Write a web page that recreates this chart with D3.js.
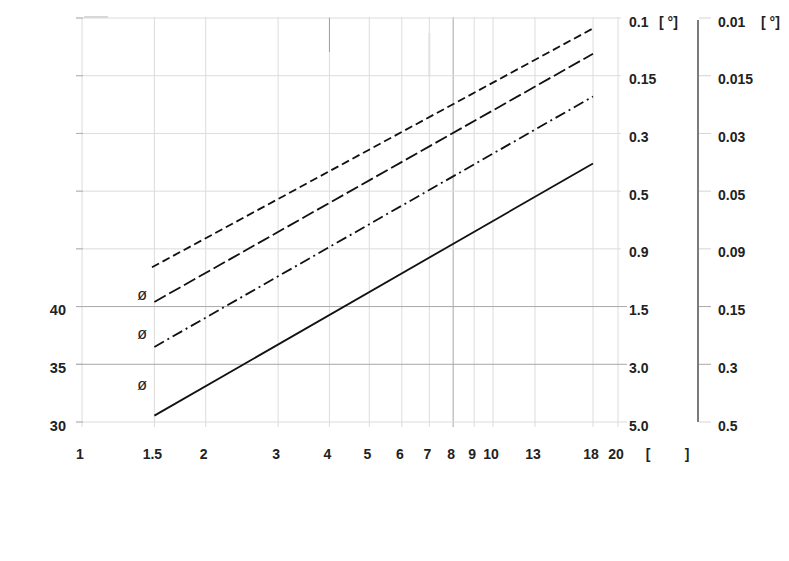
<!DOCTYPE html>
<html>
<head>
<meta charset="utf-8">
<script src="https://cdn.jsdelivr.net/npm/d3@7"></script>
<style>
  html, body { margin: 0; padding: 0; background: #fff; }
  svg { display: block; }
  text { font-family: "Liberation Sans", Arial, sans-serif; }
</style>
</head>
<body>
<svg id="chart" width="789" height="561"></svg>
<script>
// ---- data ----
const xTicks = [1, 1.5, 2, 3, 4, 5, 6, 7, 8, 9, 10, 13, 18, 20];
const yGrid = [30, 35, 40, 45, 50, 55, 60, 65];
const yLeftLabels = [30, 35, 40];
const rightLabels1 = ["5.0", "3.0", "1.5", "0.9", "0.5", "0.3", "0.15", "0.1"];
const rightLabels2 = ["0.5", "0.3", "0.15", "0.09", "0.05", "0.03", "0.015", "0.01"];
const lineNames = ["solid", "dashdot", "longdash", "shortdash"];
const lineX = [[1.5, 18], [1.5, 18], [1.5, 18], [1.48, 18]];
const lineY = [[30.55, 52.4], [36.5, 58.2], [40.4, 61.9], [43.4, 64.1]];
const diamX = [1.4, 1.4, 1.4];
const diamY = [33.1, 37.5, 40.9];

// ---- scales ----
const x = d3.scaleLog().domain([1, 10, 13, 18, 20]).range([82, 493, 535, 593, 618]);
const y = d3.scaleLinear().domain([30, 65]).range([422, 18]);

const svg = d3.select("#chart");
const dash = { solid: null, dashdot: "11,4,2,4", longdash: "13,4", shortdash: "8,4" };
const FS = "14px";

// vertical grid lines
svg.append("g").selectAll("line").data(xTicks).join("line")
  .attr("x1", d => x(d)).attr("x2", d => x(d))
  .attr("y1", y(65) - 1).attr("y2", y(30) + 5)
  .attr("stroke", d => d === 8 ? "#a8a8a8" : "#dcdcdc")
  .attr("stroke-width", 1);

// horizontal grid lines
svg.append("g").selectAll("line").data(yGrid).join("line")
  .attr("x1", 76).attr("x2", d => (d <= 40 ? 627 : 621))
  .attr("y1", d => y(d)).attr("y2", d => y(d))
  .attr("stroke", d => (d === 35 || d === 40) ? "#a8a8a8" : "#dcdcdc")
  .attr("stroke-width", 1);

// left small ticks
svg.append("g").selectAll("line").data(yGrid).join("line")
  .attr("x1", 76).attr("x2", 83)
  .attr("y1", d => y(d)).attr("y2", d => y(d))
  .attr("stroke", "#b0b0b0");

// scan artifacts (faint marks)
svg.append("line").attr("x1", 84).attr("x2", 108).attr("y1", y(65) - 1).attr("y2", y(65) - 1)
  .attr("stroke", "#d8d8d8").attr("stroke-width", 2);
svg.append("line").attr("x1", x(4)).attr("x2", x(4)).attr("y1", y(65)).attr("y2", 52)
  .attr("stroke", "#a0a0a0").attr("stroke-width", 1);
svg.append("line").attr("x1", x(7)).attr("x2", x(7)).attr("y1", 33).attr("y2", 77)
  .attr("stroke", "#e2e2e2").attr("stroke-width", 2);

// x axis labels
svg.append("g").selectAll("text").data(xTicks).join("text")
  .attr("x", d => x(d) - 2).attr("y", 459)
  .attr("text-anchor", "middle")
  .attr("font-size", FS).attr("font-weight", "bold").attr("fill", "#222")
  .text(d => d);
svg.append("text").attr("x", 648).attr("y", 459).attr("text-anchor", "middle")
  .attr("font-size", FS).attr("font-weight", "bold").attr("fill", "#222").text("[");
svg.append("text").attr("x", 687).attr("y", 459).attr("text-anchor", "middle")
  .attr("font-size", FS).attr("font-weight", "bold").attr("fill", "#222").text("]");

// left y labels
svg.append("g").selectAll("text").data(yLeftLabels).join("text")
  .attr("x", 66).attr("y", d => y(d) + 8.5)
  .attr("text-anchor", "end")
  .attr("font-size", "14.5px").attr("font-weight", "bold").attr("fill", "#222")
  .text(d => d);

// right axis 1 labels
svg.append("g").selectAll("text").data(rightLabels1).join("text")
  .attr("x", 629).attr("y", (d, i) => y(yGrid[i]) + 8.5)
  .attr("font-size", FS).attr("font-weight", "bold").attr("fill", "#222")
  .text(d => d);
svg.append("text").attr("x", 659).attr("y", y(65) + 9)
  .attr("font-size", FS).attr("font-weight", "bold").attr("fill", "#222")
  .attr("xml:space", "preserve").text("[ °]");

// right axis 2
svg.append("line").attr("x1", 698).attr("x2", 698).attr("y1", 20).attr("y2", y(30))
  .attr("stroke", "#222").attr("stroke-width", 1.2);
svg.append("g").selectAll("line").data(yGrid).join("line")
  .attr("x1", 699).attr("x2", 711)
  .attr("y1", d => y(d)).attr("y2", d => y(d))
  .attr("stroke", d => (d === 35 || d === 40) ? "#a8a8a8" : "#d4d4d4");
svg.append("g").selectAll("text").data(rightLabels2).join("text")
  .attr("x", 718).attr("y", (d, i) => y(yGrid[i]) + 8.5)
  .attr("font-size", FS).attr("font-weight", "bold").attr("fill", "#222")
  .text(d => d);
svg.append("text").attr("x", 761).attr("y", y(65) + 9)
  .attr("font-size", FS).attr("font-weight", "bold").attr("fill", "#222")
  .attr("xml:space", "preserve").text("[ °]");

// data lines
lineNames.forEach((name, i) => {
  const pts = lineX[i].map((v, j) => [x(v), y(lineY[i][j])]);
  svg.append("path")
    .attr("d", d3.line()(pts))
    .attr("fill", "none")
    .attr("stroke", "#111")
    .attr("stroke-width", 1.8)
    .attr("stroke-dasharray", dash[name]);
});

// diameter symbols
svg.append("g").selectAll("text").data(diamY).join("text")
  .attr("x", (d, i) => x(diamX[i])).attr("y", d => y(d) + 4)
  .attr("text-anchor", "middle")
  .attr("font-size", "16px").attr("fill", "#222")
  .text("ø");
</script>
</body>
</html>
